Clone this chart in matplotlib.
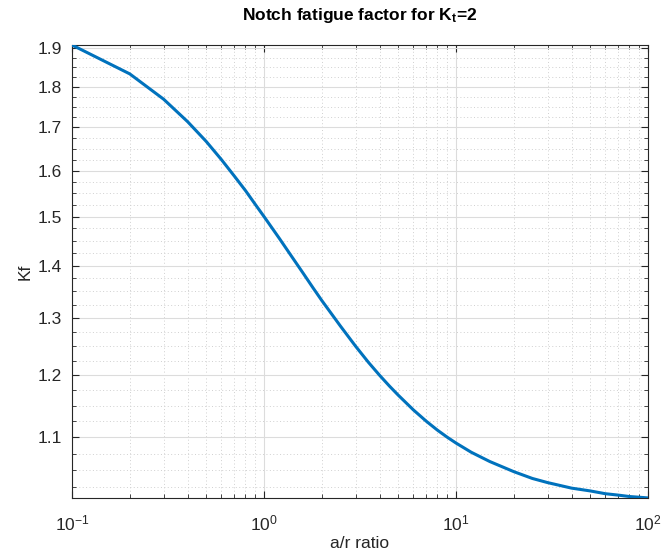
import matplotlib
matplotlib.use("Agg")
import matplotlib.pyplot as plt
from matplotlib.ticker import FixedLocator, NullFormatter, LogLocator

# values (a/r ratio -> Kf)
ar_ratio = [0.1, 0.2, 0.3, 0.4, 0.5, 0.6, 0.7, 0.8, 0.9, 1.0,
            1.2, 1.4, 1.6, 1.8, 2.0, 2.5, 3.0, 3.5, 4.0, 4.5, 5.0,
            6.0, 7.0, 8.0, 9.0, 10.0, 12.0, 15.0, 20.0, 25.0, 30.0,
            40.0, 50.0, 60.0, 70.0, 80.0, 90.0, 100.0]
kf = [1.909, 1.833, 1.769, 1.714, 1.667, 1.625, 1.588, 1.556, 1.526, 1.500,
      1.455, 1.417, 1.385, 1.357, 1.333, 1.286, 1.250, 1.222, 1.200, 1.182, 1.167,
      1.143, 1.125, 1.111, 1.100, 1.091, 1.077, 1.063, 1.048, 1.038, 1.032,
      1.024, 1.020, 1.016, 1.014, 1.012, 1.011, 1.010]

y_major = [1.1, 1.2, 1.3, 1.4, 1.5, 1.6, 1.7, 1.8, 1.9]
y_minor = [1.025 + 0.025 * i for i in range(36)]

plt.rcParams['font.family'] = ['Liberation Sans', 'DejaVu Sans']
plt.rcParams['mathtext.fontset'] = 'custom'
plt.rcParams['mathtext.bf'] = 'Liberation Sans:bold'
plt.rcParams['mathtext.rm'] = 'Liberation Sans'

fig = plt.figure(figsize=(6.63, 5.59), dpi=100)
ax = fig.add_axes([72 / 663, 1 - 498 / 559, 576 / 663, 453 / 559])

ax.plot(ar_ratio, kf, color='#0072BD', lw=2.2, zorder=3)

ax.set_xscale('log')
ax.set_yscale('log')
ax.set_xlim(0.1, 100)
ax.set_ylim(1.0099, 1.909)

ax.yaxis.set_major_locator(FixedLocator(y_major))
ax.yaxis.set_minor_locator(FixedLocator([v for v in y_minor if round(v, 3) not in y_major]))
ax.set_yticklabels([str(v) for v in y_major])
ax.yaxis.set_minor_formatter(NullFormatter())
ax.xaxis.set_major_locator(LogLocator(base=10))
ax.xaxis.set_minor_locator(LogLocator(base=10, subs=range(2, 10)))
ax.xaxis.set_minor_formatter(NullFormatter())

ax.grid(True, which='major', color='#dcdcdc', lw=0.8, ls='-')
ax.grid(True, which='minor', color='#d0d0d0', lw=0.7, ls=(0, (1, 2.5)))
ax.set_axisbelow(True)

for s in ax.spines.values():
    s.set_color('#262626')
    s.set_linewidth(0.8)
ax.tick_params(which='both', direction='in', top=True, right=True, color='#262626',
               labelsize=12.5, labelcolor='#262626')
ax.tick_params(which='major', length=5)
ax.tick_params(which='minor', length=3)
ax.tick_params(axis='x', pad=11)
ax.tick_params(axis='y', pad=7)

ax.set_xlabel('a/r ratio', fontsize=12.5, color='#262626', labelpad=2)
ax.set_ylabel('Kf', fontsize=12.5, color='#262626', labelpad=4)
ax.set_title(r'Notch fatigue factor for $\mathbf{K_t}$=2', fontsize=12.5,
             fontweight='bold', color='black', pad=18)

fig.savefig('out.png', dpi=100)
